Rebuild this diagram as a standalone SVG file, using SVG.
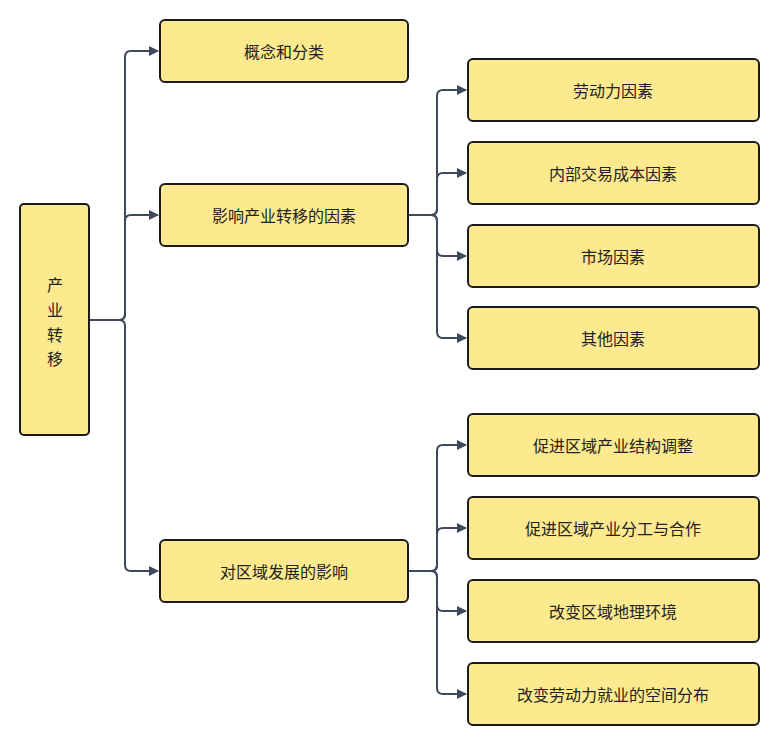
<svg xmlns="http://www.w3.org/2000/svg" width="779" height="745" viewBox="0 0 779 745">
<style>
.n{fill:#feea8e;stroke:#1a1a1a;stroke-width:2}
.t{font-family:"Noto Sans CJK SC",sans-serif;font-size:16px;fill:#222;text-anchor:middle;dominant-baseline:central}
.c{fill:none;stroke:#3e4a5c;stroke-width:2}
</style>
<defs><marker id="a" markerWidth="10" markerHeight="10" refX="9" refY="5" orient="auto" markerUnits="userSpaceOnUse"><path d="M0,0 L10,5 L0,10 z" fill="#3e4a5c"/></marker></defs>
<rect width="779" height="745" fill="#fff"/>
<g id="connectors">
<path class="c" d="M90,320 H119 Q125,320 125,314 V57 Q125,51 131,51 H158" marker-end="url(#a)"/>
<path class="c" d="M119,320 Q125,320 125,314 V221 Q125,215 131,215 H158" marker-end="url(#a)"/>
<path class="c" d="M119,320 Q125,320 125,326 V565 Q125,571 131,571 H158" marker-end="url(#a)"/>
<path class="c" d="M409,215 H431 Q437,215 437,209 V96 Q437,90 443,90 H466" marker-end="url(#a)"/>
<path class="c" d="M431,215 Q437,215 437,209 V179 Q437,173 443,173 H466" marker-end="url(#a)"/>
<path class="c" d="M431,215 Q437,215 437,221 V250 Q437,256 443,256 H466" marker-end="url(#a)"/>
<path class="c" d="M431,215 Q437,215 437,221 V332 Q437,338 443,338 H466" marker-end="url(#a)"/>
<path class="c" d="M409,571 H431 Q437,571 437,565 V451 Q437,445 443,445 H466" marker-end="url(#a)"/>
<path class="c" d="M431,571 Q437,571 437,565 V534 Q437,528 443,528 H466" marker-end="url(#a)"/>
<path class="c" d="M431,571 Q437,571 437,577 V605 Q437,611 443,611 H466" marker-end="url(#a)"/>
<path class="c" d="M431,571 Q437,571 437,577 V688 Q437,694 443,694 H466" marker-end="url(#a)"/>
</g>
<g id="root"><rect class="n" x="20" y="204" width="69" height="231" rx="4"/>
<text class="t" x="55" y="284">产</text><text class="t" x="55" y="309">业</text><text class="t" x="55" y="334">转</text><text class="t" x="55" y="358">移</text></g>
<g id="n1"><rect class="n" x="160" y="20" width="248" height="62" rx="5"/><text class="t" x="284" y="51">概念和分类</text></g>
<g id="n2"><rect class="n" x="160" y="184" width="248" height="62" rx="5"/><text class="t" x="284" y="215">影响产业转移的因素</text></g>
<g id="n3"><rect class="n" x="160" y="540" width="248" height="62" rx="5"/><text class="t" x="284" y="571">对区域发展的影响</text></g>
<g id="n21"><rect class="n" x="468" y="59" width="291" height="62" rx="5"/><text class="t" x="613" y="90">劳动力因素</text></g>
<g id="n22"><rect class="n" x="468" y="142" width="291" height="62" rx="5"/><text class="t" x="613" y="173">内部交易成本因素</text></g>
<g id="n23"><rect class="n" x="468" y="225" width="291" height="62" rx="5"/><text class="t" x="613" y="256">市场因素</text></g>
<g id="n24"><rect class="n" x="468" y="307" width="291" height="62" rx="5"/><text class="t" x="613" y="338">其他因素</text></g>
<g id="n31"><rect class="n" x="468" y="414" width="291" height="62" rx="5"/><text class="t" x="613" y="445">促进区域产业结构调整</text></g>
<g id="n32"><rect class="n" x="468" y="497" width="291" height="62" rx="5"/><text class="t" x="613" y="528">促进区域产业分工与合作</text></g>
<g id="n33"><rect class="n" x="468" y="580" width="291" height="62" rx="5"/><text class="t" x="613" y="611">改变区域地理环境</text></g>
<g id="n34"><rect class="n" x="468" y="663" width="291" height="62" rx="5"/><text class="t" x="613" y="694">改变劳动力就业的空间分布</text></g>
</svg>
